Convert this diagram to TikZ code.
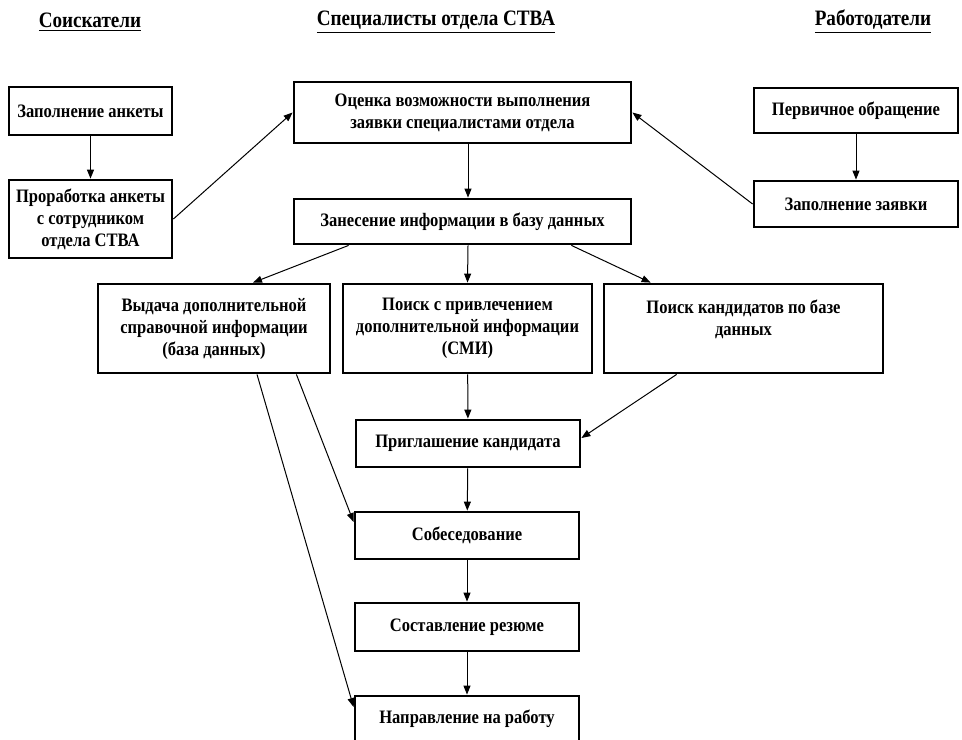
\documentclass[tikz,border=0pt]{standalone}
\usepackage{fontspec}
\setmainfont{Liberation Serif}[FakeStretch=0.87]
\usetikzlibrary{arrows.meta}

\begin{document}
\begin{tikzpicture}[x=0.5pt,y=0.5pt,line width=0.5pt,>={Triangle[length=4.5pt,width=3.5pt]},align=center,
    box/.style={draw,line width=1.4pt,inner sep=0pt,font=\fontsize{9.5}{11}\selectfont\bfseries},
    head/.style={font=\fontsize{11}{13}\selectfont\bfseries}]
  \useasboundingbox (0,0) rectangle (962,-739);
  \clip (0,0) rectangle (962,-739);
  \node (seekers)   [head] at (90,-22)  {\underline{Соискатели}};
  \node (staff)     [head] at (436,-22) {\underline{Специалисты отдела СТВА}};
  \node (employers) [head] at (873,-22) {\underline{Работодатели}};
  \node (form)      [box,minimum width=81.5pt,minimum height=24pt]   at (90.5,-111)   {Заполнение анкеты};
  \node (review)    [box,minimum width=81.5pt,minimum height=39pt]   at (90.5,-219)   {Проработка анкеты\\с сотрудником\\отдела СТВА};
  \node (assess)    [box,minimum width=168.5pt,minimum height=30.5pt] at (462.5,-112.5) {Оценка возможности выполнения\\заявки специалистами отдела};
  \node (entry)     [box,minimum width=168.5pt,minimum height=22.5pt] at (462.5,-221.5) {Занесение информации в базу данных};
  \node (contact)   [box,minimum width=102pt,minimum height=22.5pt]   at (856,-110.5)   {Первичное обращение};
  \node (request)   [box,minimum width=102pt,minimum height=23pt]     at (856,-204)     {Заполнение заявки};
  \node (info)      [box,minimum width=116pt,minimum height=44.5pt]   at (214,-328.5)   {Выдача дополнительной\\справочной информации\\(база данных)};
  \node (media)     [box,minimum width=124.5pt,minimum height=44.5pt] at (467.5,-328.5) {Поиск с привлечением\\дополнительной информации\\(СМИ)};
  \node (dbsearch)  [box,minimum width=139.5pt,minimum height=44.5pt] at (743.5,-328.5) {Поиск кандидатов по базе\\данных\\~};
  \node (invite)    [box,minimum width=112pt,minimum height=23.5pt]   at (468,-443.5)   {Приглашение кандидата};
  \node (interview) [box,minimum width=112pt,minimum height=23.5pt]   at (467,-535.5)   {Собеседование};
  \node (resume)    [box,minimum width=112pt,minimum height=24pt]     at (467,-627)     {Составление резюме};
  \node (placement) [box,minimum width=112pt,minimum height=23pt]     at (467,-719)     {Направление на работу};
  \path (form) edge[->] (review);
  \path (review.east) edge[->] (assess.west);
  \path (contact) edge[->] (request);
  \path (request.west) edge[->] (assess.east);
  \path ([xshift=2.75pt]assess.south) edge[->] ([xshift=2.75pt]entry.north);
  \path ([xshift=28pt]entry.south west) edge[->] ([xshift=19.5pt]info.north);
  \path ([xshift=2.75pt]entry.south) edge[->] (media.north);
  \path ([xshift=-30.5pt]entry.south east) edge[->] ([xshift=24pt]dbsearch.north west);
  \path (media) edge[->] (invite);
  \path ([xshift=37pt]dbsearch.south west) edge[->] ([yshift=2.75pt]invite.east);
  \path ([xshift=-17.5pt]info.south east) edge[->] ([yshift=6.75pt]interview.west);
  \path ([xshift=21.5pt]info.south) edge[->] ([yshift=6pt]placement.west);
  \path (invite) edge[->] (interview);
  \path (interview) edge[->] (resume);
  \path (resume) edge[->] (placement);
\end{tikzpicture}
\end{document}
